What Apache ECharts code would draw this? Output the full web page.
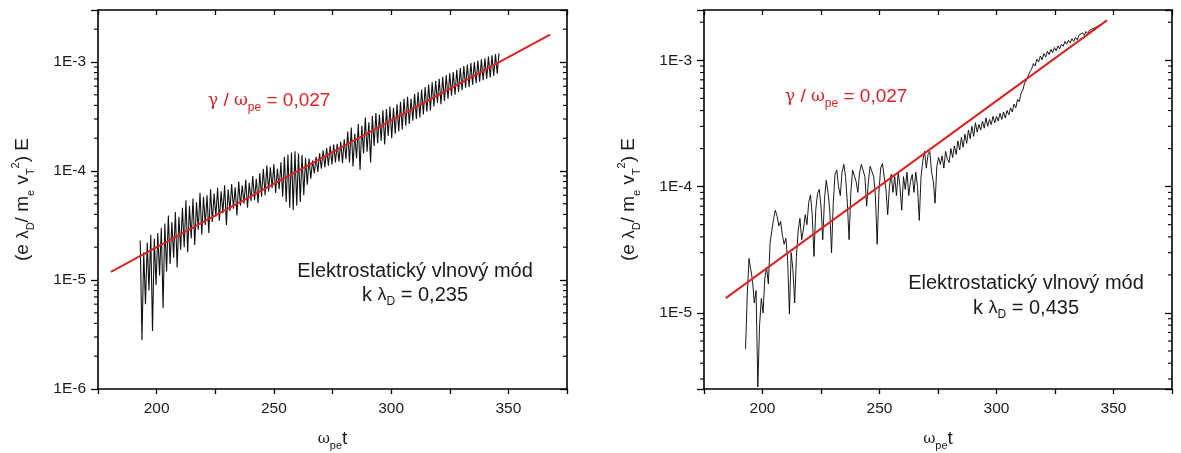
<!DOCTYPE html>
<html><head><meta charset="utf-8">
<script src="https://cdn.jsdelivr.net/npm/echarts@6/dist/echarts.min.js"></script>
<style>html,body{margin:0;padding:0;background:#fff}#c{width:1181px;height:453px}</style>
</head><body><div id="c"></div>
<script>
// ---------- data ----------
const leftT0 = 193, leftDT = 0.75;
const leftE = [
 2.3e-5, 2.8e-6, 1.8e-5, 6.0e-6,
 2.2e-5, 8.0e-6, 2.6e-5, 3.4e-6,
 2.4e-5, 9.0e-6, 2.7e-5, 1.1e-5,
 3.0e-5, 5.5e-6, 3.3e-5, 1.2e-5,
 3.9e-5, 1.4e-5, 3.4e-5, 1.6e-5,
 4.2e-5, 1.3e-5, 3.8e-5, 1.9e-5,
 4.6e-5, 2.0e-5, 5.4e-5, 1.8e-5,
 4.8e-5, 2.4e-5, 5.6e-5, 2.1e-5,
 5.2e-5, 2.9e-5, 6.3e-5, 2.6e-5,
 5.8e-5, 3.2e-5, 6.0e-5, 2.7e-5,
 6.8e-5, 3.4e-5, 6.2e-5, 3.8e-5,
 7.0e-5, 3.5e-5, 6.5e-5, 4.1e-5,
 7.4e-5, 3.2e-5, 6.8e-5, 4.3e-5,
 7.6e-5, 4.5e-5, 7.1e-5, 3.9e-5,
 8.0e-5, 4.8e-5, 7.4e-5, 5.0e-5,
 8.3e-5, 4.6e-5, 7.8e-5, 5.3e-5,
 9.0e-5, 5.4e-5, 8.5e-5, 5.1e-5,
 9.6e-5, 5.8e-5, 1.05e-4, 6.0e-5,
 1.12e-4, 6.5e-5, 1.08e-4, 7.0e-5,
 1.15e-4, 6.3e-5, 1.05e-4, 6.8e-5,
 1.2e-4, 5.8e-5, 1.35e-4, 5.2e-5,
 1.42e-4, 4.6e-5, 1.48e-4, 4.4e-5,
 1.52e-4, 4.8e-5, 1.45e-4, 5.2e-5,
 1.40e-4, 6.0e-5, 1.32e-4, 7.5e-5,
 1.30e-4, 8.5e-5, 1.25e-4, 9.5e-5,
 1.35e-4, 9.8e-5, 1.45e-4, 1.05e-4,
 1.55e-4, 1.08e-4, 1.62e-4, 1.12e-4,
 1.70e-4, 1.15e-4, 1.75e-4, 1.20e-4,
 1.78e-4, 1.22e-4, 1.85e-4, 1.18e-4,
 1.95e-4, 1.28e-4, 2.3e-4, 1.2e-4,
 2.5e-4, 1.1e-4, 2.2e-4, 1.3e-4,
 2.7e-4, 1.02e-4, 2.6e-4, 1.45e-4,
 3.1e-4, 1.5e-4, 2.8e-4, 1.2e-4,
 3.2e-4, 1.7e-4, 3.4e-4, 1.8e-4,
 3.3e-4, 1.9e-4, 3.6e-4, 1.75e-4,
 3.7e-4, 2.1e-4, 3.9e-4, 2.0e-4,
 3.8e-4, 2.2e-4, 4.1e-4, 2.3e-4,
 4.3e-4, 2.4e-4, 4.6e-4, 2.6e-4,
 4.8e-4, 2.7e-4, 4.6e-4, 2.9e-4,
 5.1e-4, 3.0e-4, 5.3e-4, 3.1e-4,
 5.6e-4, 3.3e-4, 5.9e-4, 3.5e-4,
 6.2e-4, 3.6e-4, 6.5e-4, 3.9e-4,
 6.7e-4, 4.2e-4, 7.0e-4, 4.1e-4,
 7.3e-4, 4.4e-4, 7.6e-4, 4.6e-4,
 7.9e-4, 4.9e-4, 8.1e-4, 5.0e-4,
 8.5e-4, 5.3e-4, 8.8e-4, 5.5e-4,
 9.2e-4, 5.8e-4, 9.5e-4, 5.9e-4,
 9.8e-4, 6.2e-4, 1.0e-3, 6.4e-4,
 1.03e-3, 6.6e-4, 1.06e-3, 6.8e-4,
 1.08e-3, 7.0e-4, 1.12e-3, 7.2e-4,
 1.15e-3, 7.5e-4, 1.18e-3, 7.8e-4,
 1.2e-3
];
const rightT0 = 192.75, rightDT = 0.75;
const rightE = [
 5.2e-6, 1.4e-5, 2.7e-5, 2.2e-5,
 1.8e-5, 1.2e-5, 1.5e-5, 2.6e-6,
 8.0e-6, 1.3e-5, 1.0e-5, 1.9e-5,
 2.3e-5, 1.7e-5, 3.6e-5, 4.5e-5,
 5.6e-5, 6.5e-5, 5.8e-5, 4.9e-5,
 5.3e-5, 4.1e-5, 3.5e-5, 3.9e-5,
 2.6e-5, 9.8e-6, 3.0e-5, 2.2e-5,
 1.2e-5, 2.8e-5, 4.5e-5, 5.6e-5,
 3.8e-5, 4.6e-5, 6.0e-5, 5.0e-5,
 7.5e-5, 8.6e-5, 6.0e-5, 2.8e-5,
 6.5e-5, 8.8e-5, 9.5e-5, 7.0e-5,
 3.8e-5, 8.0e-5, 1.12e-4, 9.0e-5,
 6.5e-5, 3.0e-5, 7.5e-5, 1.25e-4,
 1.35e-4, 1.0e-4, 8.5e-5, 1.3e-4,
 1.5e-4, 1.2e-4, 7.5e-5, 3.8e-5,
 9.0e-5, 1.35e-4, 1.4e-4, 1.1e-4,
 9.0e-5, 1.3e-4, 1.5e-4, 1.55e-4,
 1.2e-4, 7.0e-5, 1.1e-4, 1.45e-4,
 1.5e-4, 1.2e-4, 8.5e-5, 3.5e-5,
 9.0e-5, 1.4e-4, 1.52e-4, 1.2e-4,
 9.5e-5, 6.0e-5, 1.0e-4, 1.25e-4,
 9.0e-5, 1.2e-4, 8.5e-5, 1.3e-4,
 1.0e-4, 6.5e-5, 1.2e-4, 9.5e-5,
 1.3e-4, 8.5e-5, 1.1e-4, 1.25e-4,
 9.0e-5, 1.3e-4, 1.0e-4, 5.4e-5,
 1.2e-4, 1.6e-4, 1.9e-4, 1.4e-4,
 1.8e-4, 1.9e-4, 1.3e-4, 1.1e-4,
 7.4e-5, 1.45e-4, 1.7e-4, 1.5e-4,
 1.75e-4, 1.4e-4, 1.9e-4, 1.65e-4,
 1.55e-4, 2.0e-4, 1.7e-4, 2.1e-4,
 1.8e-4, 2.3e-4, 1.95e-4, 2.45e-4,
 2.05e-4, 2.6e-4, 2.2e-4, 2.8e-4,
 2.4e-4, 3.0e-4, 2.5e-4, 3.2e-4,
 2.7e-4, 3.1e-4, 2.8e-4, 3.3e-4,
 2.9e-4, 3.5e-4, 3.0e-4, 3.4e-4,
 3.1e-4, 3.6e-4, 3.2e-4, 3.6e-4,
 3.3e-4, 3.8e-4, 3.4e-4, 3.9e-4,
 3.5e-4, 4.0e-4, 3.7e-4, 4.2e-4,
 3.9e-4, 4.5e-4, 4.2e-4, 4.9e-4,
 4.7e-4, 5.5e-4, 5.8e-4, 6.6e-4,
 6.9e-4, 7.5e-4, 8.1e-4, 8.5e-4,
 9.4e-4, 9.0e-4, 1.02e-3, 9.7e-4,
 1.08e-3, 1.01e-3, 1.13e-3, 1.06e-3,
 1.18e-3, 1.11e-3, 1.22e-3, 1.15e-3,
 1.26e-3, 1.19e-3, 1.30e-3, 1.23e-3,
 1.34e-3, 1.29e-3, 1.41e-3, 1.34e-3,
 1.44e-3, 1.37e-3, 1.48e-3, 1.41e-3,
 1.52e-3, 1.45e-3, 1.58e-3, 1.53e-3,
 1.65e-3, 1.58e-3, 1.69e-3, 1.62e-3,
 1.73e-3, 1.67e-3, 1.78e-3, 1.73e-3,
 1.84e-3, 1.79e-3, 1.91e-3, 1.87e-3,
 1.97e-3, 2.02e-3
];
const leftFitT = [180.5, 367.8];
const leftFitE = [1.19e-5, 1.78e-3];
const rightFitT = [184.3, 347.2];
const rightFitE = [1.31e-5, 2.07e-3];
const xRange = [175, 375];
const xLabelTicks = [200, 250, 300, 350];
const leftYRange = [1e-6, 3e-3];
const rightYRange = [2.5e-6, 2.5e-3];
const growthText = '0,027';
const modeTitle = 'Elektrostatický vlnový mód';
const leftK = '0,235';
const rightK = '0,435';

// ---------- build ----------
const FF = '"Liberation Sans", Arial, sans-serif';
const RED = '#d92424';
const INK = '#1a1a1a';

function seriesData(t0, dt, arr) { return arr.map((v, i) => [t0 + i * dt, v]); }
function pairData(ts, es) { return ts.map((t, i) => [t, es[i]]); }
function minorVals(r) {
  const out = [];
  for (let e = -7; e <= -2; e++) for (let m = 2; m <= 9; m++) {
    const v = m * Math.pow(10, e);
    if (v > r[0] * 1.0001 && v < r[1] * 0.9999) out.push([xRange[0], v]);
  }
  return out;
}
function logLabel(v) {
  const l = Math.log10(v), e = Math.round(l);
  if (Math.abs(l - e) > 1e-6) return '';
  return '1E' + e;
}
const axisLineStyle = { color: '#000', width: 1.6 };

function xAxes(gi) {
  const common = { type: 'value', gridIndex: gi, min: xRange[0], max: xRange[1], interval: 25,
    splitLine: { show: false }, axisLine: { onZero: false, lineStyle: axisLineStyle } };
  return [
    Object.assign({}, common, { position: 'bottom',
      axisTick: { inside: false, length: 5, lineStyle: { color: '#000', width: 1.3 } },
      axisLabel: { margin: 12, fontSize: 15.5, color: INK, fontFamily: FF,
        formatter: v => xLabelTicks.indexOf(v) >= 0 ? String(v) : '' },
      name: '{w|ω}{s|pe}{t|t}', nameLocation: 'middle', nameGap: 38,
      nameTextStyle: { rich: {
        w: { fontSize: 15, fontFamily: '"DejaVu Serif", serif', color: INK, lineHeight: 24, verticalAlign: 'middle' },
        s: { fontSize: 11, fontFamily: FF, color: INK, lineHeight: 10, verticalAlign: 'bottom' },
        t: { fontSize: 19, fontFamily: FF, color: INK, lineHeight: 24, verticalAlign: 'middle' } } } }),
    Object.assign({}, common, { position: 'top',
      axisTick: { inside: true, length: 5, lineStyle: { color: '#000', width: 1.3 } },
      axisLabel: { show: false } })
  ];
}
function yAxes(gi, r) {
  const common = { type: 'log', logBase: 10, gridIndex: gi, min: r[0], max: r[1],
    splitLine: { show: false }, minorTick: { show: false },
    axisLine: { show: true, onZero: false, lineStyle: axisLineStyle } };
  return [
    Object.assign({}, common, { position: 'left',
      axisTick: { inside: false, length: 7, lineStyle: { color: '#000', width: 1.3 } },
      axisLabel: { margin: 12, fontSize: 15.5, color: INK, fontFamily: FF, formatter: logLabel },
      name: '(e {g|λ}{s|D}/ m{s|e} v{s|T}{p|2}) E', nameLocation: 'middle', nameGap: 62, nameRotate: 90,
      nameTextStyle: { fontSize: 19, fontFamily: FF, color: INK, lineHeight: 26, rich: {
        g: { fontSize: 17, fontFamily: FF, color: INK, lineHeight: 26, verticalAlign: 'middle' },
        s: { fontSize: 11, fontFamily: FF, color: INK, lineHeight: 11, verticalAlign: 'bottom' },
        p: { fontSize: 11, fontFamily: FF, color: INK, lineHeight: 11, verticalAlign: 'top' } } } }),
    Object.assign({}, common, { position: 'right',
      axisTick: { inside: true, length: 7, lineStyle: { color: '#000', width: 1.3 } },
      axisLabel: { show: false } })
  ];
}
function minorTickSeries(xi, yi, r) {
  return { type: 'custom', xAxisIndex: xi, yAxisIndex: yi, clip: false, silent: true, z: 1,
    data: minorVals(r),
    renderItem: (params, api) => {
      const p = api.coord([api.value(0), api.value(1)]);
      const cs = params.coordSys;
      const st = { stroke: '#000', lineWidth: 1.1 };
      return { type: 'group', children: [
        { type: 'line', shape: { x1: cs.x, y1: p[1], x2: cs.x - 4, y2: p[1] }, style: st },
        { type: 'line', shape: { x1: cs.x + cs.width, y1: p[1], x2: cs.x + cs.width - 4, y2: p[1] }, style: st }
      ] };
    } };
}
function redLabel(x, y) {
  return { type: 'text', left: x, top: y, z: 100, style: {
    text: '{g|γ} / {g|ω}{s|pe} = ' + growthText, fill: RED, fontSize: 19, fontFamily: FF, lineHeight: 26,
    rich: {
      g: { fontSize: 17, fontFamily: '"DejaVu Serif", serif', fill: RED, lineHeight: 26, verticalAlign: 'middle' },
      s: { fontSize: 12, fontFamily: FF, fill: RED, lineHeight: 12, verticalAlign: 'bottom' } } } };
}
function modeLabel(cx, cy1, cy2, kval) {
  return [
    { type: 'text', x: cx, y: cy1, z: 100, style: { text: modeTitle, fill: INK, fontSize: 20, fontFamily: FF,
      align: 'center', verticalAlign: 'middle' } },
    { type: 'text', x: cx, y: cy2, z: 100, style: {
      text: 'k {g|λ}{s|D} = ' + kval, fill: INK, fontSize: 20, fontFamily: FF, lineHeight: 26,
      align: 'center', verticalAlign: 'middle',
      rich: { g: { fontSize: 18, fontFamily: FF, fill: INK, lineHeight: 26, verticalAlign: 'middle' },
              s: { fontSize: 12, fontFamily: FF, fill: INK, lineHeight: 12, verticalAlign: 'bottom' } } } }
  ];
}

const xa = xAxes(0).concat(xAxes(1));
const ya = yAxes(0, leftYRange).concat(yAxes(1, rightYRange));

const option = {
  animation: false,
  backgroundColor: '#fff',
  grid: [
    { left: 98, top: 10, width: 469, height: 379, containLabel: false, outerBoundsMode: 'none' },
    { left: 704, top: 10, width: 468, height: 379, containLabel: false, outerBoundsMode: 'none' }
  ],
  xAxis: xa,
  yAxis: ya,
  series: [
    minorTickSeries(0, 0, leftYRange),
    minorTickSeries(2, 2, rightYRange),
    { type: 'line', xAxisIndex: 0, yAxisIndex: 0, data: seriesData(leftT0, leftDT, leftE), showSymbol: false, symbol: 'none',
      lineStyle: { color: '#111', width: 1.1 }, z: 2 },
    { type: 'line', xAxisIndex: 2, yAxisIndex: 2, data: seriesData(rightT0, rightDT, rightE), showSymbol: false, symbol: 'none',
      lineStyle: { color: '#000', width: 0.9 }, z: 2 },
    { type: 'line', xAxisIndex: 0, yAxisIndex: 0, data: pairData(leftFitT, leftFitE), showSymbol: false, symbol: 'none',
      lineStyle: { color: RED, width: 2 }, z: 3 },
    { type: 'line', xAxisIndex: 2, yAxisIndex: 2, data: pairData(rightFitT, rightFitE), showSymbol: false, symbol: 'none',
      lineStyle: { color: RED, width: 2 }, z: 3 }
  ],
  graphic: [
    redLabel(208, 88),
    redLabel(785, 84)
  ].concat(modeLabel(415, 271, 295, leftK)).concat(modeLabel(1026, 283, 308, rightK))
};
const chart = echarts.init(document.getElementById('c'), null, { renderer: 'canvas' });
chart.setOption(option);
</script>
</body></html>
